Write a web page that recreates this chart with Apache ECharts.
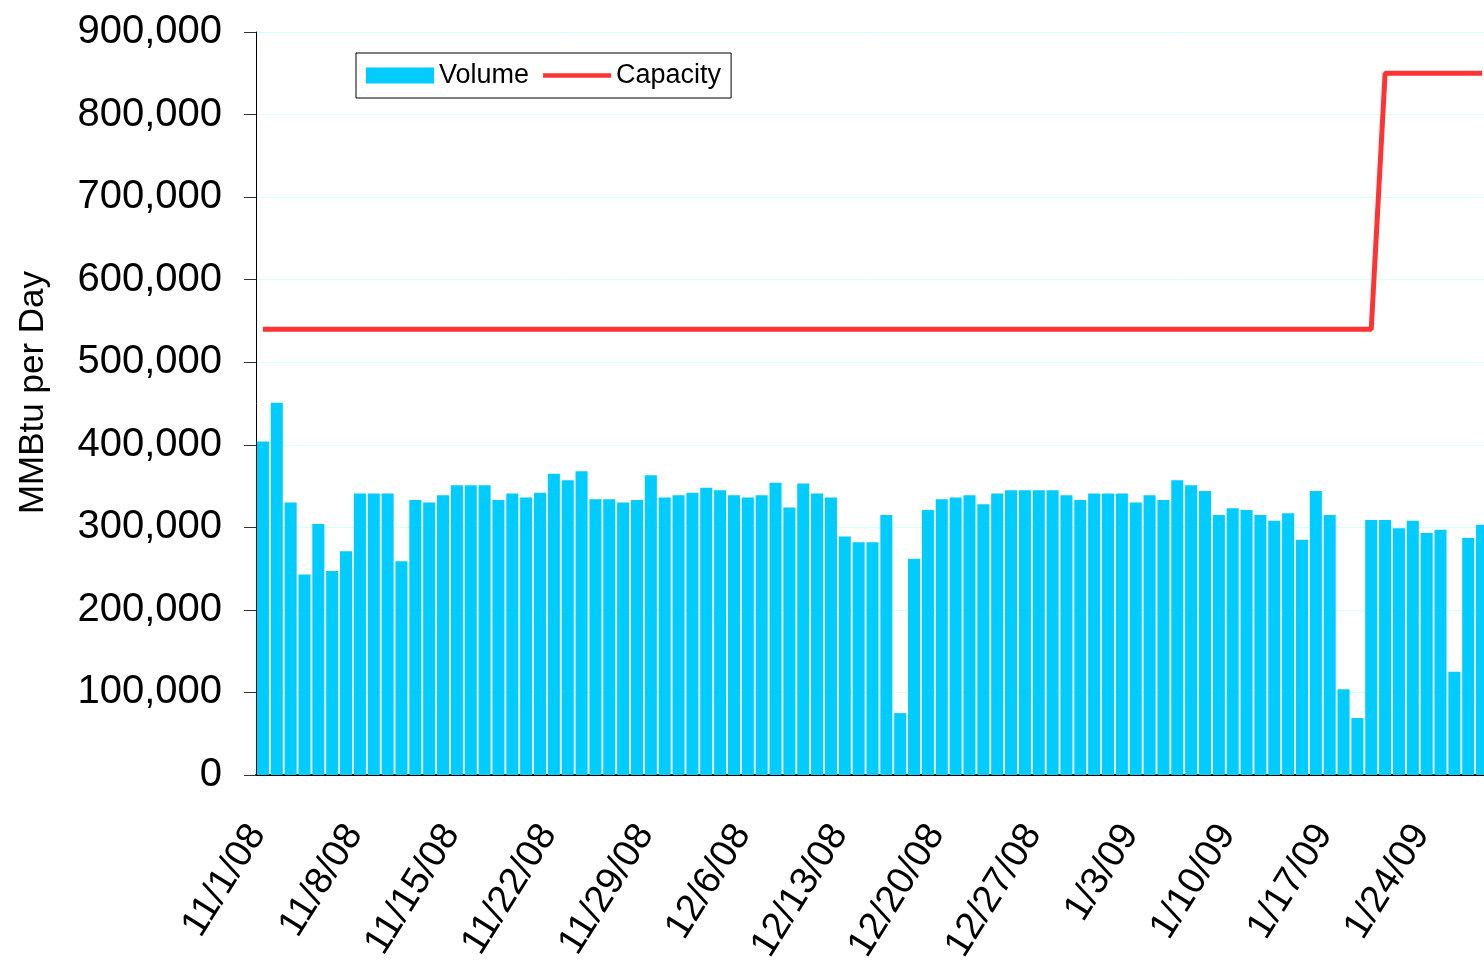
<!DOCTYPE html>
<html>
<head>
<meta charset="utf-8">
<script src="https://cdn.jsdelivr.net/npm/echarts@6/dist/echarts.min.js"></script>
<style>
  html, body { margin: 0; padding: 0; background: #fff; }
  #chart { width: 1484px; height: 960px; }
</style>
</head>
<body>
<div id="chart"></div>
<script>
const dates = [
  '11/1/08', '11/2/08', '11/3/08', '11/4/08', '11/5/08', '11/6/08', '11/7/08', '11/8/08', '11/9/08', '11/10/08',
  '11/11/08', '11/12/08', '11/13/08', '11/14/08', '11/15/08', '11/16/08', '11/17/08', '11/18/08', '11/19/08', '11/20/08',
  '11/21/08', '11/22/08', '11/23/08', '11/24/08', '11/25/08', '11/26/08', '11/27/08', '11/28/08', '11/29/08', '11/30/08',
  '12/1/08', '12/2/08', '12/3/08', '12/4/08', '12/5/08', '12/6/08', '12/7/08', '12/8/08', '12/9/08', '12/10/08',
  '12/11/08', '12/12/08', '12/13/08', '12/14/08', '12/15/08', '12/16/08', '12/17/08', '12/18/08', '12/19/08', '12/20/08',
  '12/21/08', '12/22/08', '12/23/08', '12/24/08', '12/25/08', '12/26/08', '12/27/08', '12/28/08', '12/29/08', '12/30/08',
  '12/31/08', '1/1/09', '1/2/09', '1/3/09', '1/4/09', '1/5/09', '1/6/09', '1/7/09', '1/8/09', '1/9/09',
  '1/10/09', '1/11/09', '1/12/09', '1/13/09', '1/14/09', '1/15/09', '1/16/09', '1/17/09', '1/18/09', '1/19/09',
  '1/20/09', '1/21/09', '1/22/09', '1/23/09', '1/24/09', '1/25/09', '1/26/09', '1/27/09', '1/28/09'
]

// MMBtu per day
const volume = [
  404000, 451000, 330000, 243000, 304000, 247000, 271000, 341000, 341000, 341000,
  259000, 333000, 330000, 339000, 351000, 351000, 351000, 333000, 341000, 336000,
  342000, 365000, 357000, 368000, 334000, 334000, 330000, 333000, 363000, 336000,
  339000, 342000, 348000, 345000, 339000, 336000, 339000, 354000, 324000, 353000,
  341000, 336000, 289000, 282000, 282000, 315000, 75000, 262000, 321000, 334000,
  336000, 339000, 328000, 341000, 345000, 345000, 345000, 345000, 339000, 333000,
  341000, 341000, 341000, 330000, 339000, 333000, 357000, 351000, 344000, 315000,
  323000, 321000, 315000, 308000, 317000, 285000, 344000, 315000, 104000, 69000,
  309000, 309000, 299000, 308000, 293000, 297000, 125000, 287000, 303000
]

const capacity = [
  540000, 540000, 540000, 540000, 540000, 540000, 540000, 540000, 540000, 540000,
  540000, 540000, 540000, 540000, 540000, 540000, 540000, 540000, 540000, 540000,
  540000, 540000, 540000, 540000, 540000, 540000, 540000, 540000, 540000, 540000,
  540000, 540000, 540000, 540000, 540000, 540000, 540000, 540000, 540000, 540000,
  540000, 540000, 540000, 540000, 540000, 540000, 540000, 540000, 540000, 540000,
  540000, 540000, 540000, 540000, 540000, 540000, 540000, 540000, 540000, 540000,
  540000, 540000, 540000, 540000, 540000, 540000, 540000, 540000, 540000, 540000,
  540000, 540000, 540000, 540000, 540000, 540000, 540000, 540000, 540000, 540000,
  540000, 850000, 850000, 850000, 850000, 850000, 850000, 850000, 850000
]

const font = 'Liberation Sans, Arial, sans-serif'
const chart = echarts.init(document.getElementById('chart'))

// thin red bar inside a 16px tall box, so the legend keeps one item height
const lineIcon = 'path://M0,0L0.5,0L0.5,0.01Z M0,5.5L72,5.5L72,10.5L0,10.5Z M0,16L0.5,16L0.5,15.99Z'

const option = {
  animation: false,
  textStyle: { fontFamily: font },
  legend: {
    left: 356,
    top: 53,
    orient: 'horizontal',
    padding: [9, 10, 9, 10],
    itemGap: 14,
    itemWidth: 68,
    itemHeight: 16,
    borderColor: '#000',
    borderWidth: 1,
    textStyle: { fontSize: 27, color: '#000', fontFamily: font },
    data: [
      { name: 'Volume', icon: 'rect' },
      { name: 'Capacity', icon: lineIcon, itemStyle: { color: '#FF3333', borderWidth: 0 } }
    ]
  },
  grid: {
    left: 256,
    top: 32,
    bottom: 185,
    right: -5,
    containLabel: false,
    outerBoundsMode: 'none'
  },
  xAxis: {
    type: 'category',
    data: dates,
    boundaryGap: true,
    axisLine: { lineStyle: { color: '#000', width: 2 } },
    axisTick: { interval: 6, length: 10, lineStyle: { color: '#555', width: 2 } },
    axisLabel: {
      interval: 6,
      rotate: 58,
      margin: 44,
      fontSize: 38,
      color: '#000',
      fontFamily: font,
      // trailing space pulls the label end back onto the tick, as in the original
      formatter: v => v + ' '
    }
  },
  yAxis: {
    type: 'value',
    min: 0,
    max: 900000,
    interval: 100000,
    name: 'MMBtu per Day',
    nameLocation: 'middle',
    nameGap: 205,
    nameTextStyle: { fontSize: 35, color: '#000', fontFamily: font, padding: [0, 0, 0, 22] },
    axisLine: { show: true, lineStyle: { color: '#000', width: 1 } },
    axisTick: { show: true, length: 12, lineStyle: { color: '#333' } },
    axisLabel: {
      margin: 34,
      fontSize: 40,
      color: '#000',
      fontFamily: font,
      formatter: v => v.toLocaleString('en-US')
    },
    splitLine: { lineStyle: { color: '#D6FFFF', width: 1 } }
  },
  series: [
    {
      name: 'Volume',
      type: 'bar',
      data: volume,
      barCategoryGap: '13%',
      itemStyle: { color: '#00CCFF' }
    },
    {
      name: 'Capacity',
      type: 'line',
      data: capacity,
      symbol: 'none',
      lineStyle: { color: '#FF3333', width: 5 },
      itemStyle: { color: '#FF3333' },
      z: 5
    }
  ]
}

chart.setOption(option)
</script>
</body>
</html>
